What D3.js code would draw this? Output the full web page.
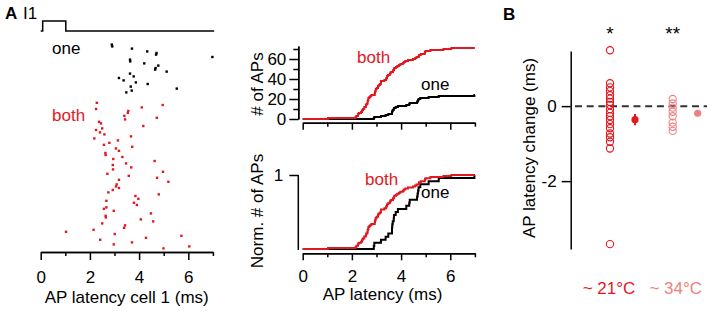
<!DOCTYPE html>
<html>
<head>
<meta charset="utf-8">
<script src="https://cdn.jsdelivr.net/npm/d3@7"></script>
<style>
  body { margin: 0; background: #fff; }
  svg text { font-family: "Liberation Sans", Arial, sans-serif; }
</style>
</head>
<body>
<svg id="fig" width="709" height="315"></svg>
<script>
// raster, cell 1 stimulated alone ("one"): latency (ms) and sweep number
const oneLatency = [2.89, 2.91, 3.71, 4.33, 4.71, 4.69, 6.98, 3.63, 3.64, 4.21, 4.78, 4.67, 4.65,
  5.12, 3.63, 3.78, 3.18, 3.37, 3.87, 4.35, 3.66, 5.53, 3.70, 3.48];
const oneSweep = [1.3, 2.2, 3.3, 4.7, 5.5, 6.3, 7.5, 8.8, 9.7, 10.7, 11.8, 13, 13.8,
  14.8, 15.8, 17.2, 18, 19.2, 20.2, 21, 22.3, 23.3, 24.3, 25.2];

// raster, both cells stimulated ("both")
const bothLatency = [2.28, 4.96, 4.11, 2.25, 3.56, 3.54, 3.40, 4.72, 3.43, 2.37, 2.45, 4.17, 2.50,
  2.25, 2.41, 2.59, 3.67, 2.18, 3.14, 2.79, 2.57, 3.72, 3.06, 3.18, 2.63, 2.64, 3.32, 2.95,
  4.63, 3.47, 2.93, 3.68, 2.94, 4.97, 2.71, 3.58, 4.73, 3.18, 5.19, 3.09, 3.06, 3.18, 2.93,
  2.75, 4.80, 3.85, 3.97, 2.67, 3.79, 3.91, 2.67, 2.57, 2.97, 4.48, 2.64, 2.65, 4.07, 4.57,
  2.50, 3.43, 3.39, 2.15, 1.03, 3.01, 5.72, 4.28, 2.42, 3.71, 2.97, 6.04, 4.99];
const bothSweep = [30.4, 31.5, 32.7, 33.5, 34.5, 35.4, 36.9, 37.9, 38.7, 39.9, 40.7, 42, 43.2,
  44, 45.2, 46.2, 47.2, 48.2, 49.2, 50.4, 51.4, 52.4, 53.2, 54.4, 55.5, 56.5, 57.5, 58.5,
  59.5, 60.7, 61.5, 62.7, 63.7, 64.9, 65.9, 66.9, 67.9, 68.9, 69.9, 71.2, 72.2, 73, 74,
  75.2, 76.2, 77, 78.4, 79.4, 80.4, 81.5, 82.7, 83.4, 84.4, 85.7, 86.9, 87.7, 88.7, 89.7,
  90.7, 91.7, 92.9, 93.9, 94.9, 96, 96.9, 97.9, 98.9, 100.2, 101.2, 102.2, 103.2];

// current step I1
const stimTime = [0, 0.08, 0.08, 1.02, 1.02, 7.05];
const stimLevel = [0, 0, 1, 1, 0, 0];

// panel B
const groups = ["~ 21°C", "~ 34°C"];
const change21 = [1.49, 0.61, 0.5, 0.4, 0.29, 0.2, 0.11, 0.03, -0.08, -0.18, -0.27, -0.37,
  -0.48, -0.59, -0.73, -0.83, -0.95, -1.13, -3.68];
const change34 = [0.19, 0.07, -0.04, -0.15, -0.27, -0.44, -0.55, -0.66];
const meanChange = [-0.36, -0.19];
const semChange = [0.15, 0.04];
const stars = ["*", "**"];

const red = "#e3171e", pink = "#f08080";
const svg = d3.select("#fig");

function styleAxis(g, size) {
  g.attr("font-size", size).attr("font-family", "Liberation Sans, Arial, sans-serif");
  g.selectAll("path, line").attr("stroke", "#000").attr("stroke-width", 1.5);
  g.selectAll("text").attr("fill", "#000");
}

// ---------- A: raster ----------
let xR = d3.scaleLinear().domain([0, 7]).range([40.7, 212.9]);
let yR = d3.scaleLinear().domain([0, 105]).range([42, 252]);
let yStim = d3.scaleLinear().domain([0, 1]).range([31, 21]);

svg.append("path")
  .datum(d3.zip(stimTime, stimLevel))
  .attr("fill", "none").attr("stroke", "#000").attr("stroke-width", 1.5)
  .attr("d", d3.line().x(d => xR(d[0])).y(d => yStim(d[1])));

svg.append("text").attr("x", 5).attr("y", 19).attr("font-size", 17).attr("font-weight", "bold").text("A");
svg.append("text").attr("x", 23).attr("y", 19).attr("font-size", 17).text("I1");

svg.selectAll(".one").data(d3.zip(oneLatency, oneSweep)).enter()
  .append("rect").attr("class", "one")
  .attr("x", d => xR(d[0]) - 1.2).attr("y", d => yR(d[1]) - 1.2)
  .attr("width", 2.4).attr("height", 2.4).attr("fill", "#000");

svg.selectAll(".both").data(d3.zip(bothLatency, bothSweep)).enter()
  .append("rect").attr("class", "both")
  .attr("x", d => xR(d[0]) - 1.2).attr("y", d => yR(d[1]) - 1.2)
  .attr("width", 2.4).attr("height", 2.4).attr("fill", red);

svg.append("text").attr("x", 52).attr("y", 54).attr("font-size", 17).text("one");
svg.append("text").attr("x", 52).attr("y", 121).attr("font-size", 17).attr("fill", red).text("both");

function latencyAxis(scale, y, labels, minor, major, pad) {
  svg.append("g").attr("transform", `translate(0,${y})`)
    .call(d3.axisBottom(scale).tickValues([1, 3, 5, 7]).tickSize(minor).tickSizeOuter(0).tickFormat(""))
    .call(g => styleAxis(g, 17));
  svg.append("g").attr("transform", `translate(0,${y})`)
    .call(d3.axisBottom(scale).tickValues([0, 2, 4, 6]).tickSize(major).tickSizeOuter(0)
      .tickPadding(pad).tickFormat(labels ? d3.format("d") : ""))
    .call(g => styleAxis(g, 17));
}
latencyAxis(xR, 252, true, 4, 8, 11);
svg.append("text").attr("x", 126.7).attr("y", 303).attr("font-size", 17)
  .attr("text-anchor", "middle").text("AP latency cell 1 (ms)");

// ---------- A: cumulative counts ----------
function cumulative(lat, norm) {
  let s = lat.slice().sort(d3.ascending);
  let n = norm ? s.length : 1;
  let pts = [[0, 0]];
  s.forEach((t, i) => pts.push([t, (i + 1) / n]));
  pts.push([7, s.length / n]);
  return pts;
}

let xC = d3.scaleLinear().domain([0, 7]).range([302.7, 474.9]);
let yC = d3.scaleLinear().domain([0, 73]).range([119, 46]);
let yN = d3.scaleLinear().domain([0, 1]).range([249, 175]);

// top: counts
svg.append("g").attr("transform", "translate(298.3,0)")
  .call(d3.axisLeft(yC).tickValues([10, 30, 50, 70]).tickSize(5).tickSizeOuter(0).tickFormat(""))
  .call(g => styleAxis(g, 17));
svg.append("g").attr("transform", "translate(298.3,0)")
  .call(d3.axisLeft(yC).tickValues([0, 20, 40, 60]).tickSize(9).tickSizeOuter(0).tickPadding(3))
  .call(g => styleAxis(g, 17));
latencyAxis(xC, 122.7, false, 4, 7, 10);

let lineC = d3.line().curve(d3.curveStepAfter).x(d => xC(d[0])).y(d => yC(d[1]));
svg.append("path").datum(cumulative(oneLatency, false))
  .attr("fill", "none").attr("stroke", "#000").attr("stroke-width", 2).attr("d", lineC);
svg.append("path").datum(cumulative(bothLatency, false))
  .attr("fill", "none").attr("stroke", red).attr("stroke-width", 2).attr("d", lineC);

svg.append("text").attr("x", 357).attr("y", 63).attr("font-size", 17).attr("fill", red).text("both");
svg.append("text").attr("x", 421).attr("y", 90).attr("font-size", 17).text("one");
svg.append("text").attr("transform", "translate(263,84) rotate(-90)")
  .attr("font-size", 17).attr("text-anchor", "middle").text("# of APs");

// bottom: normalised
svg.append("g").attr("transform", "translate(298.3,0)")
  .call(d3.axisLeft(yN).tickValues([1]).tickSize(9).tickSizeOuter(0).tickPadding(6)
    .tickFormat(d3.format("d")))
  .call(g => styleAxis(g, 17))
  .call(g => g.select(".domain").attr("d", "M0,175V250"));
latencyAxis(xC, 253.3, true, 4, 7, 10);

let lineN = d3.line().curve(d3.curveStepAfter).x(d => xC(d[0])).y(d => yN(d[1]));
svg.append("path").datum(cumulative(oneLatency, true))
  .attr("fill", "none").attr("stroke", "#000").attr("stroke-width", 2).attr("d", lineN);
svg.append("path").datum(cumulative(bothLatency, true))
  .attr("fill", "none").attr("stroke", red).attr("stroke-width", 2).attr("d", lineN);

svg.append("text").attr("x", 365).attr("y", 185).attr("font-size", 17).attr("fill", red).text("both");
svg.append("text").attr("x", 421).attr("y", 198).attr("font-size", 17).text("one");
svg.append("text").attr("transform", "translate(263,211) rotate(-90)")
  .attr("font-size", 17).attr("text-anchor", "middle").text("Norm. # of APs");
svg.append("text").attr("x", 382.5).attr("y", 300).attr("font-size", 17)
  .attr("text-anchor", "middle").text("AP latency (ms)");

// ---------- B: latency change ----------
let xB = d3.scalePoint().domain(groups).range([610, 672.7]);
let yB = d3.scaleLinear().domain([-3.81, 1.47]).range([249, 51]);
let groupColor = d3.scaleOrdinal().domain(groups).range([red, pink]);

svg.append("text").attr("x", 503).attr("y", 20).attr("font-size", 17).attr("font-weight", "bold").text("B");

svg.append("line")
  .attr("x1", 575).attr("x2", 707).attr("y1", yB(0)).attr("y2", yB(0))
  .attr("stroke", "#333").attr("stroke-width", 2).attr("stroke-dasharray", "7,4.7");

svg.append("g").attr("transform", "translate(570.7,0)")
  .call(d3.axisLeft(yB).tickValues([-2, 0]).tickSize(9).tickSizeOuter(0).tickPadding(5)
    .tickFormat(d => d < 0 ? "-" + Math.abs(d) : d))
  .call(g => styleAxis(g, 17));

svg.append("text").attr("transform", "translate(535,148) rotate(-90)")
  .attr("font-size", 17).attr("text-anchor", "middle").text("AP latency change (ms)");

[change21, change34].forEach((vals, i) => {
  let grp = groups[i];
  svg.selectAll(".c" + i).data(vals).enter()
    .append("circle").attr("class", "c" + i)
    .attr("cx", xB(grp)).attr("cy", d => yB(d)).attr("r", 3.6)
    .attr("fill", "none").attr("stroke", groupColor(grp)).attr("stroke-width", 1.1);
  svg.append("line")
    .attr("x1", xB(grp) + 25).attr("x2", xB(grp) + 25)
    .attr("y1", yB(meanChange[i] + semChange[i])).attr("y2", yB(meanChange[i] - semChange[i]))
    .attr("stroke", groupColor(grp)).attr("stroke-width", 2);
  svg.append("circle")
    .attr("cx", xB(grp) + 25).attr("cy", yB(meanChange[i])).attr("r", 3.6)
    .attr("fill", groupColor(grp));
  svg.append("text").attr("x", xB(grp)).attr("y", 40).attr("font-size", 19)
    .attr("text-anchor", "middle").text(stars[i]);
  svg.append("text").attr("x", xB(grp) + (i ? 3 : -1)).attr("y", 294).attr("font-size", 17)
    .attr("text-anchor", "middle").attr("fill", groupColor(grp)).text(grp);
});
</script>
</body>
</html>
